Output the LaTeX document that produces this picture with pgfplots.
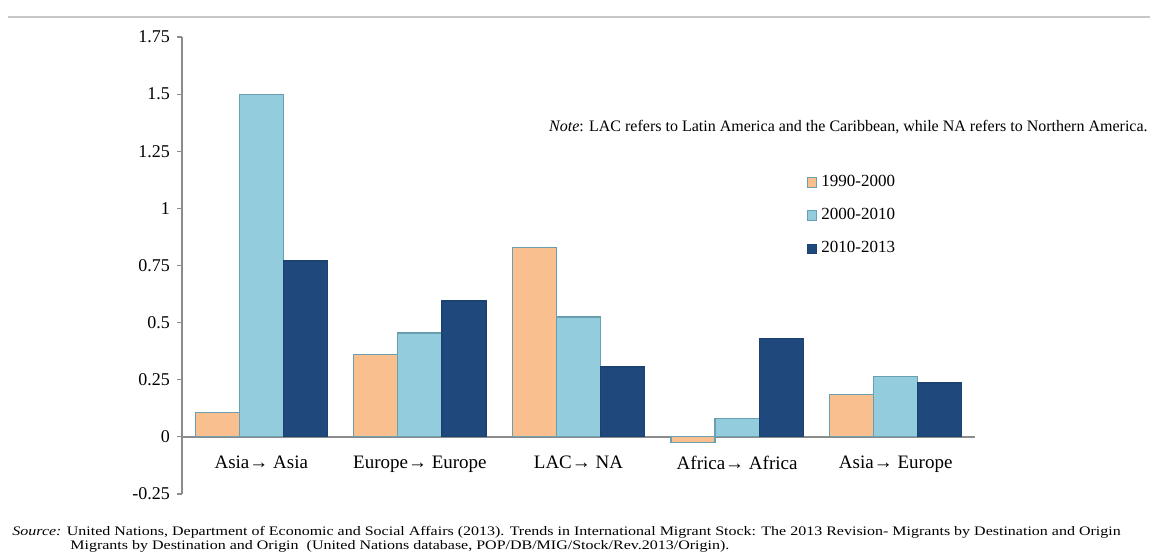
\documentclass[border=0pt]{standalone}
\usepackage{pgfplots}
\pgfplotsset{compat=1.18}
\usepackage{fontspec}
\setmainfont{Liberation Serif}
\definecolor{cOr}{HTML}{F9BF8F}
\definecolor{cLb}{HTML}{93CDDD}
\definecolor{cDb}{HTML}{1F497D}
\definecolor{cEdge}{HTML}{6A9FB0}
\definecolor{cAx}{HTML}{8C8C8C}
\begin{document}
\begin{tikzpicture}
\useasboundingbox (-91pt,-30pt) rectangle (484pt,247pt);
\draw[line width=1pt, color=black!22] (-87pt,238.5pt) -- (484pt,238.5pt);
\begin{axis}[
  at={(0pt,0pt)}, anchor=south west,
  scale only axis, width=396.5pt, height=228.5pt,
  xmin=-0.5, xmax=4.5, ymin=-0.25, ymax=1.75,
  axis x line*=middle, axis y line*=left,
  axis line style={color=cAx, line width=1pt},
  xtick={0,1,2,3,4},
  xticklabels={Asia→ Asia, Europe→ Europe, LAC→ NA, Africa→ Africa, Asia→ Europe},
  x tick style={draw=none},
  xticklabel style={font=\fontsize{9.5}{10}\selectfont, yshift=-3.7pt},
  ytick={-0.25,0,0.25,0.5,0.75,1,1.25,1.5,1.75},
  yticklabels={-0.25,0,0.25,0.5,0.75,1,1.25,1.5,1.75},
  yticklabel style={font=\fontsize{9}{10}\selectfont},
  y tick style={color=cAx, line width=0.6pt},
  tick align=outside, major tick length=2.5pt,
  ybar, bar width=0.278,
  legend style={at={(0.788,0.707)}, anchor=north west, draw=none, fill=none,
    font=\fontsize{8.5}{9}\selectfont, row sep=5.4pt, inner sep=0pt,
    /tikz/every even column/.append style={column sep=0pt}},
  legend cell align=left,
  legend image code/.code={\draw[#1, line width=0.5pt] (0pt,-2.3pt) rectangle (4.6pt,2.3pt);},
  clip=false,
]
\addplot[fill=cOr, draw=cEdge, line width=0.6pt, bar shift=-0.278] coordinates {(0,0.105) (1,0.36) (2,0.83) (3,-0.026) (4,0.185)};
\addplot[fill=cLb, draw=cEdge, line width=0.6pt, bar shift=0] coordinates {(0,1.497) (1,0.455) (2,0.525) (3,0.08) (4,0.263)};
\addplot[fill=cDb, draw=cDb!90!black, line width=0.6pt, bar shift=0.278] coordinates {(0,0.77) (1,0.595) (2,0.306) (3,0.43) (4,0.236)};
\legend{1990-2000,2000-2010,2010-2013}
\end{axis}
\node[anchor=east, inner sep=0pt, font=\fontsize{8}{8}\selectfont] at (483pt,183.5pt) {\textit{Note}: LAC refers to Latin America and the Caribbean, while NA refers to Northern America.};
\node[anchor=west, inner sep=0pt, font=\fontsize{6.5}{7}\selectfont] at (-85pt,-19pt) {\scalebox{1.23}[1]{\textit{Source:} United Nations, Department of Economic and Social Affairs (2013). Trends in International Migrant Stock: The 2013 Revision- Migrants by Destination and Origin}};
\node[anchor=west, inner sep=0pt, font=\fontsize{6.5}{7}\selectfont] at (-56pt,-26pt) {\scalebox{1.23}[1]{Migrants by Destination and Origin\ \ (United Nations database, POP/DB/MIG/Stock/Rev.2013/Origin).}};
\end{tikzpicture}
\end{document}
